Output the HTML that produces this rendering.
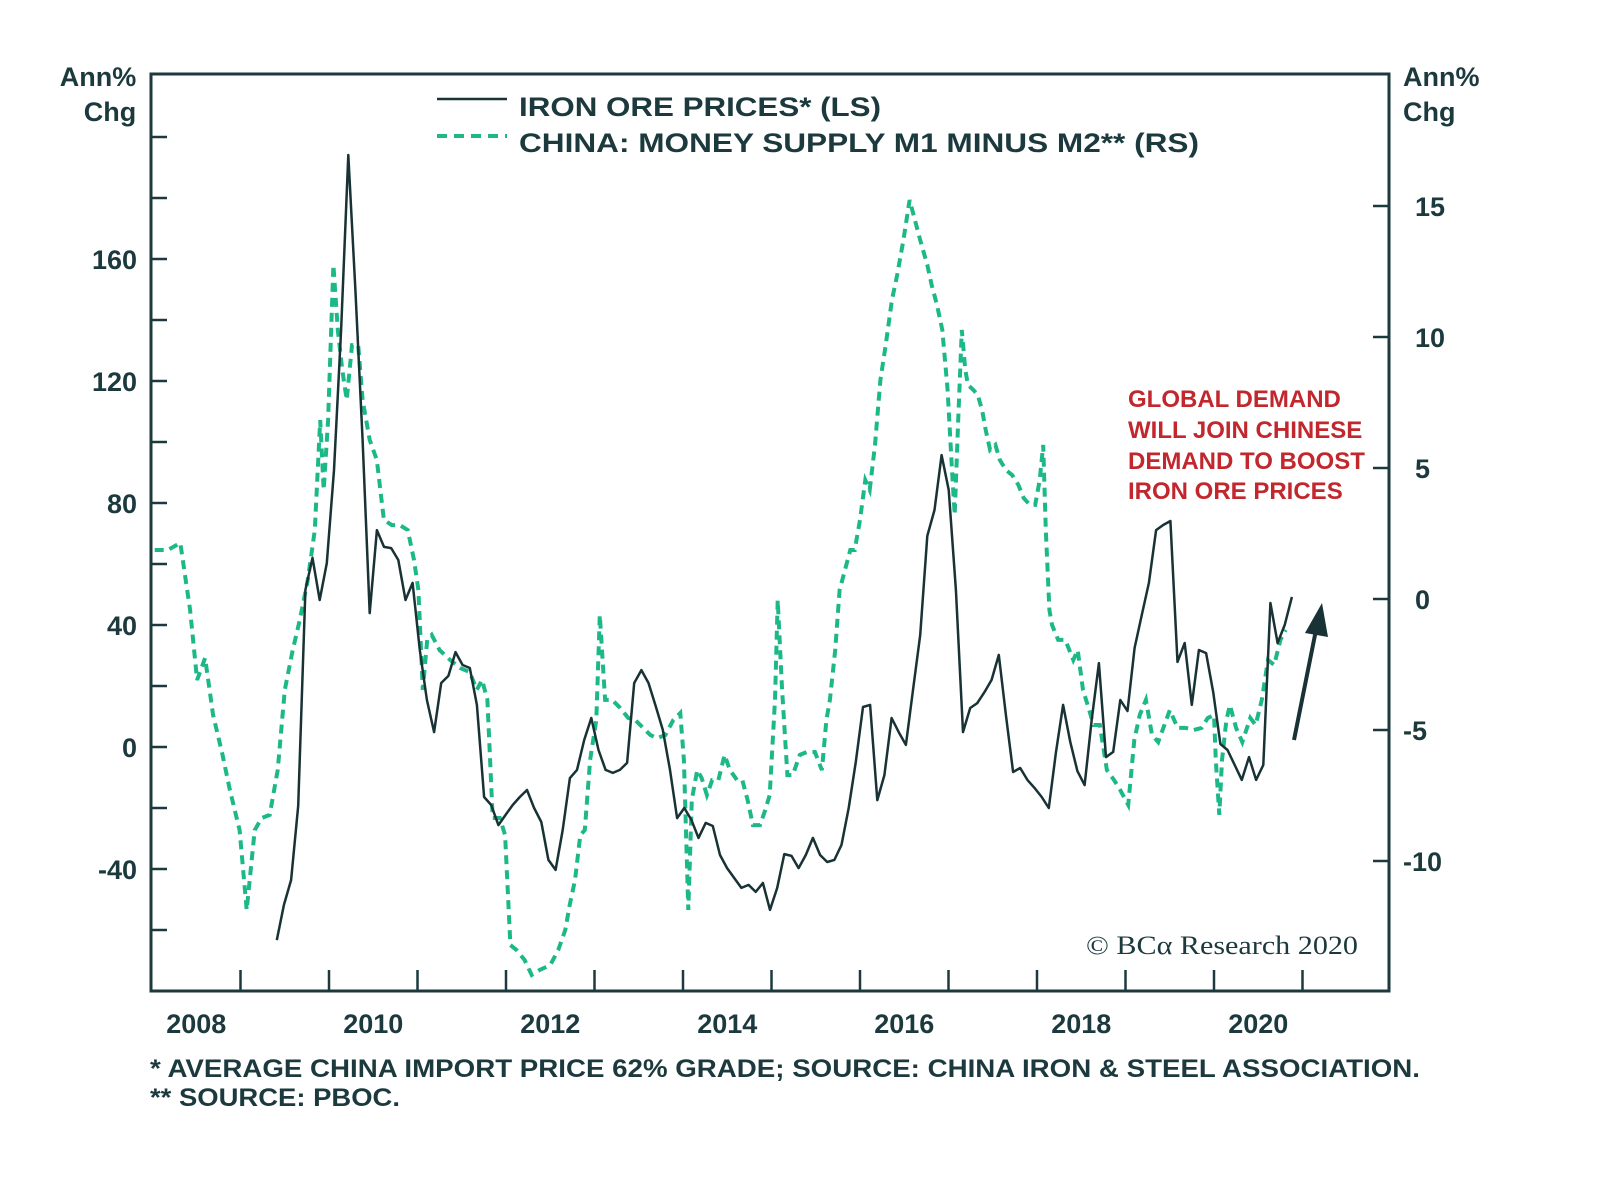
<!DOCTYPE html>
<html><head><meta charset="utf-8"><style>
body{margin:0;background:#fff;}
svg{display:block;font-family:"Liberation Sans",sans-serif;}
</style></head><body>
<svg id="chart" width="1600" height="1189" viewBox="0 0 1600 1189">
<rect x="151" y="74" width="1238" height="917" fill="none" stroke="#1c3a3e" stroke-width="3"/>
<g id="axes"></g>
<g id="series"></g>
<text x="98" y="86" text-anchor="middle" font-size="27" font-weight="bold" fill="#1c3a3e"><tspan x="98">Ann%</tspan><tspan x="110" dy="35">Chg</tspan></text>
<text x="1403" y="86" font-size="27" font-weight="bold" fill="#1c3a3e"><tspan x="1403">Ann%</tspan><tspan x="1403" dy="35">Chg</tspan></text>
<g>
<line x1="437" y1="99" x2="507" y2="99" stroke="#183235" stroke-width="2.5"/>
<text x="519" y="116" font-size="27" font-weight="bold" fill="#1c3a3e" textLength="362" lengthAdjust="spacingAndGlyphs">IRON ORE PRICES* (LS)</text>
<line x1="437" y1="136" x2="507" y2="136" stroke="#1db887" stroke-width="4" stroke-dasharray="10,7"/>
<text x="519" y="152" font-size="27" font-weight="bold" fill="#1c3a3e" textLength="680" lengthAdjust="spacingAndGlyphs">CHINA: MONEY SUPPLY M1 MINUS M2** (RS)</text>
</g>
<g font-size="24" font-weight="bold" fill="#c1272d">
<text x="1128" y="407">GLOBAL DEMAND</text>
<text x="1128" y="438">WILL JOIN CHINESE</text>
<text x="1128" y="469">DEMAND TO BOOST</text>
<text x="1128" y="499">IRON ORE PRICES</text>
</g>
<g>
<line x1="1294" y1="740" x2="1316" y2="630" stroke="#183235" stroke-width="4"/>
<polygon points="1322,603 1305,633 1328,637" fill="#183235"/>
</g>
<text x="1086" y="954" font-family="'Liberation Serif',serif" font-size="26" fill="#1c3a3e" textLength="272" lengthAdjust="spacingAndGlyphs">© BCα Research 2020</text>
<text x="150" y="1077" font-size="25" font-weight="bold" fill="#1c3a3e" textLength="1270" lengthAdjust="spacingAndGlyphs">*  AVERAGE CHINA IMPORT PRICE 62% GRADE; SOURCE: CHINA IRON &amp; STEEL ASSOCIATION.</text>
<text x="150" y="1106" font-size="25" font-weight="bold" fill="#1c3a3e" textLength="250" lengthAdjust="spacingAndGlyphs">** SOURCE: PBOC.</text>
</svg>
<script>
const leftTicks=[160,120,80,40,0,-40];
const rightTicks=[15,10,5,0,-5,-10];
const yearLabels=[2008,2010,2012,2014,2016,2018,2020];
const ironStart=2009.41, ironEnd=2020.88;
const ironValues=[-63.3,-51.8,-43.6,-19.3,51.5,62,48.2,60.3,90.8,136.7,194.1,149.8,100.7,43.9,71.1,65.6,65.2,61.3,48.2,53.8,31.8,15.4,4.9,21,23.3,31.1,26.9,25.9,13.8,-16.4,-19,-25.6,-22.3,-19,-16.4,-14.1,-20,-24.6,-37,-40.3,-27.2,-10.2,-7.5,2.3,9.5,-1,-7.5,-8.5,-7.5,-5.2,21,25.2,21,13.4,5.6,-7.5,-23.3,-20,-23.9,-29.8,-24.9,-25.9,-35.4,-39.7,-43,-46.2,-45.2,-47.5,-44.6,-53.4,-46.2,-35.1,-35.7,-39.7,-35.4,-29.8,-35.4,-37.7,-37,-32.1,-20,-4.9,13.1,13.8,-17.4,-9.2,9.5,4.9,0.7,18.7,36.7,69.2,77.7,95.7,84.3,51.5,4.9,12.8,14.4,18,22,30.2,10.5,-8.2,-6.9,-10.8,-13.4,-16.4,-20,-1.6,13.8,1.6,-7.9,-12.5,8.9,27.5,-3.3,-1.6,15.4,11.8,32.5,43.3,53.8,71.1,72.8,74.1,27.9,34.1,13.8,31.8,30.8,18,1,-1,-5.9,-10.8,-3.3,-10.8,-5.9,47.2,34.1,40,49.2];
const m2Dates=[2008.03,2008.18,2008.32,2008.43,2008.51,2008.60,2008.69,2008.79,2008.88,2008.99,2009.07,2009.16,2009.24,2009.33,2009.42,2009.50,2009.59,2009.67,2009.76,2009.84,2009.90,2009.94,2009.99,2010.05,2010.10,2010.15,2010.20,2010.26,2010.33,2010.38,2010.46,2010.54,2010.62,2010.71,2010.80,2010.89,2010.96,2011.01,2011.06,2011.11,2011.16,2011.25,2011.37,2011.48,2011.59,2011.67,2011.73,2011.79,2011.82,2011.85,2011.93,2011.99,2012.05,2012.12,2012.21,2012.29,2012.38,2012.50,2012.59,2012.67,2012.72,2012.78,2012.84,2012.89,2012.95,2013.02,2013.06,2013.12,2013.20,2013.29,2013.38,2013.46,2013.55,2013.63,2013.71,2013.80,2013.89,2013.97,2014.01,2014.06,2014.10,2014.16,2014.21,2014.27,2014.33,2014.40,2014.47,2014.53,2014.61,2014.67,2014.73,2014.79,2014.87,2014.93,2014.98,2015.04,2015.07,2015.12,2015.18,2015.24,2015.32,2015.40,2015.49,2015.57,2015.62,2015.66,2015.72,2015.77,2015.83,2015.89,2015.94,2016.00,2016.06,2016.11,2016.17,2016.23,2016.29,2016.36,2016.42,2016.49,2016.56,2016.62,2016.68,2016.76,2016.81,2016.87,2016.93,2016.99,2017.04,2017.07,2017.11,2017.15,2017.19,2017.22,2017.28,2017.33,2017.38,2017.42,2017.47,2017.53,2017.58,2017.65,2017.72,2017.79,2017.85,2017.92,2017.98,2018.03,2018.07,2018.10,2018.14,2018.17,2018.24,2018.32,2018.41,2018.46,2018.52,2018.59,2018.64,2018.71,2018.79,2018.87,2018.94,2019.03,2019.10,2019.16,2019.23,2019.30,2019.37,2019.44,2019.50,2019.59,2019.68,2019.77,2019.86,2019.93,2020.00,2020.02,2020.06,2020.09,2020.14,2020.18,2020.25,2020.32,2020.41,2020.47,2020.54,2020.61,2020.68,2020.75,2020.81];
const m2Values=[1.87,1.87,2.14,-0.42,-3.09,-2.25,-4.43,-5.84,-7.29,-8.82,-11.87,-8.82,-8.36,-8.24,-6.53,-3.47,-1.95,-0.8,0.73,2.63,6.83,4.16,6.83,12.75,10.27,8.74,7.6,9.69,9.69,7.6,6.07,5.31,3.02,2.82,2.82,2.63,1.49,0.34,-3.47,-1.56,-1.37,-1.95,-2.33,-2.63,-2.79,-3.47,-3.09,-3.85,-6.15,-8.36,-8.36,-9.01,-13.21,-13.4,-13.78,-14.35,-14.16,-13.97,-13.4,-12.63,-11.68,-10.73,-9.01,-8.82,-6.15,-4.62,-0.61,-3.85,-3.85,-4.16,-4.54,-4.62,-4.92,-5.19,-5.31,-5.19,-4.62,-4.35,-6.15,-11.87,-7.67,-6.53,-6.83,-7.48,-6.91,-6.91,-5.95,-6.53,-6.91,-6.91,-7.67,-8.63,-8.63,-8.05,-7.48,-3.85,-0.04,-3.47,-6.72,-6.72,-5.95,-5.84,-5.84,-6.53,-4.62,-3.85,-1.95,0.34,1.11,1.87,1.87,3.02,4.54,4.16,5.88,8.36,9.69,11.41,12.37,13.7,15.23,14.47,13.7,12.75,11.98,11.22,10.27,7.98,4.92,3.21,6.83,10.27,8.74,8.17,7.98,7.79,7.21,6.45,5.69,5.88,5.31,4.92,4.73,4.35,3.85,3.59,3.59,4.54,5.88,2.63,-0.42,-0.99,-1.56,-1.56,-2.33,-1.95,-3.47,-4.24,-4.81,-4.81,-6.53,-6.91,-7.29,-7.86,-5.38,-4.43,-3.85,-5.19,-5.46,-4.81,-4.24,-4.92,-4.92,-5.0,-4.92,-4.54,-4.43,-6.15,-8.24,-6.15,-4.62,-4.05,-4.92,-5.46,-4.54,-4.81,-3.85,-2.33,-2.52,-1.56,-1.18];

const NS='http://www.w3.org/2000/svg';
const xScale=t=>329+(t-2010)*88.5;
const yLeft=v=>747-v*3.05;
const yRight=v=>599-v*26.2;
const axes=document.getElementById('axes');
const series=document.getElementById('series');
function mk(tag,attrs,parent){const e=document.createElementNS(NS,tag);for(const k in attrs)e.setAttribute(k,attrs[k]);parent.appendChild(e);return e;}
const dark='#1c3a3e';
for(let v=-60;v<=200;v+=20){const y=yLeft(v);if(y<76||y>989)continue;
 const t=mk('line',{x1:151,x2:167,y1:y,y2:y,stroke:dark,'stroke-width':2.5},axes);
 
 }
leftTicks.forEach(v=>{const t=mk('text',{x:137,y:yLeft(v)+10,'text-anchor':'end','font-size':27,'font-weight':'bold',fill:dark},axes);t.textContent=v;
 
 });
rightTicks.forEach(v=>{const y=yRight(v);
 const l=mk('line',{x1:1373,x2:1389,y1:y,y2:y,stroke:dark,'stroke-width':2.5},axes);
 
 
 const t=mk('text',{x:(v<0?1403:1415),y:y+10,'font-size':27,'font-weight':'bold',fill:dark},axes);t.textContent=v;
 
 });
for(let yr=2009;yr<=2021;yr++){const x=xScale(yr);
 const l=mk('line',{x1:x,x2:x,y1:970,y2:991,stroke:dark,'stroke-width':2.5},axes);
 
 }
yearLabels.forEach(yr=>{const t=mk('text',{x:xScale(yr+0.5),y:1033,'text-anchor':'middle','font-size':27,'font-weight':'bold',fill:dark},axes);t.textContent=yr;
 
 });
let n=Math.min(m2Dates.length,m2Values.length);
let d='';for(let i=0;i<n;i++){d+=(i?'L':'M')+xScale(m2Dates[i]).toFixed(1)+','+yRight(m2Values[i]).toFixed(1);}
const p2=mk('path',{d:d,fill:'none',stroke:'#1db887','stroke-width':4,'stroke-dasharray':'9,6'},series);


const step=(ironEnd-ironStart)/(ironValues.length-1);
let d1='';ironValues.forEach((v,i)=>{d1+=(i?'L':'M')+xScale(ironStart+i*step).toFixed(1)+','+yLeft(v).toFixed(1);});
const p1=mk('path',{d:d1,fill:'none',stroke:'#183235','stroke-width':2.5,'stroke-linejoin':'round'},series);


</script>
</body></html>
